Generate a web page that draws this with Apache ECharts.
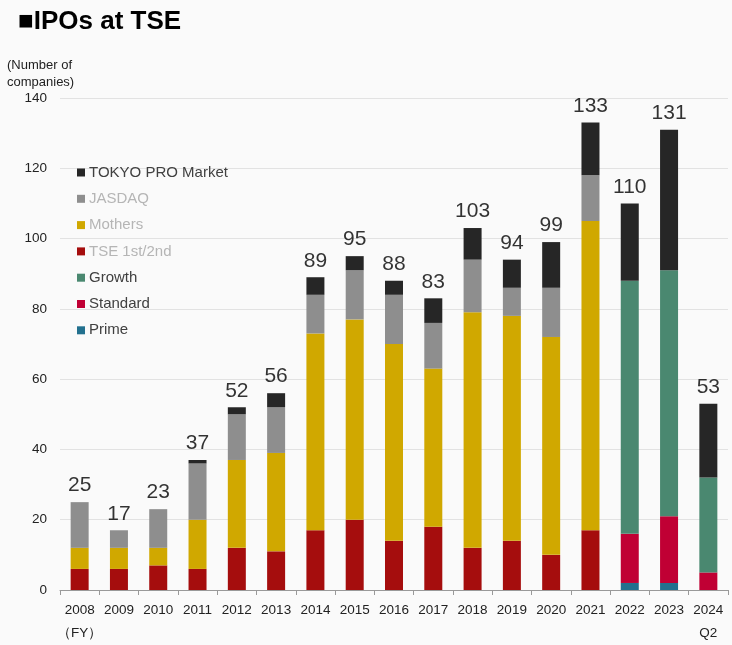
<!doctype html>
<html>
<head>
<meta charset="utf-8">
<title>IPOs at TSE</title>
<script src="https://cdn.jsdelivr.net/npm/echarts@6/dist/echarts.min.js"></script>
<style>
  html, body { margin: 0; padding: 0; background: #fafafa; }
  #main { width: 732px; height: 645px; }
</style>
</head>
<body>
<div id="main"></div>
<script type="text/javascript">
// 年度
var years = ['2008', '2009', '2010', '2011', '2012', '2013', '2014', '2015', '2016',
  '2017', '2018', '2019', '2020', '2021', '2022', '2023', '2024'];
var yearLabels = ['2008\n（FY）', '2009', '2010', '2011', '2012', '2013', '2014', '2015', '2016',
  '2017', '2018', '2019', '2020', '2021', '2022', '2023', '2024\nQ2'];

// 市場別の件数
var prime    = [0, 0, 0, 0, 0, 0, 0, 0, 0, 0, 0, 0, 0, 0, 2, 2, 0];
var standard = [0, 0, 0, 0, 0, 0, 0, 0, 0, 0, 0, 0, 0, 0, 14, 19, 5];
var growth   = [0, 0, 0, 0, 0, 0, 0, 0, 0, 0, 0, 0, 0, 0, 72, 70, 27];
var tse      = [6, 6, 7, 6, 12, 11, 17, 20, 14, 18, 12, 14, 10, 17, 0, 0, 0];
var mothers  = [6, 6, 5, 14, 25, 28, 56, 57, 56, 45, 67, 64, 62, 88, 0, 0, 0];
var jasdaq   = [13, 5, 11, 16, 13, 13, 11, 14, 14, 13, 15, 8, 14, 13, 0, 0, 0];
var proMkt   = [0, 0, 0, 1, 2, 4, 5, 4, 4, 7, 9, 8, 13, 15, 22, 40, 21];

var yTicks = [0, 20, 40, 60, 80, 100, 120, 140];

// 合計
var total = [];
for (var i = 0; i < years.length; i++) {
  total.push(prime[i] + standard[i] + growth[i] + tse[i] + mothers[i] + jasdaq[i] + proMkt[i]);
}

var myChart = echarts.init(document.getElementById('main'));

function bar(name, data, color) {
  return {
    name: name,
    type: 'bar',
    stack: 'all',
    barWidth: 18,
    data: data,
    itemStyle: { color: color },
    emphasis: { disabled: true }
  };
}

var dark = '#404040';
var faded = '#b5b5b5';

var option = {
  backgroundColor: '#fafafa',
  animation: false,
  textStyle: { fontFamily: 'Liberation Sans, Arial, sans-serif' },
  title: {
    text: '■IPOs at TSE',
    left: 13,
    top: 4,
    textStyle: { fontSize: 26, fontWeight: 'bold', color: '#000' }
  },
  graphic: [{
    type: 'text',
    left: 7,
    top: 57,
    style: {
      text: '(Number of\ncompanies)',
      fontSize: 13,
      lineHeight: 17,
      fill: '#222',
      fontFamily: 'Liberation Sans, Arial, sans-serif'
    }
  }],
  legend: {
    orient: 'vertical',
    left: 72,
    top: 160,
    itemWidth: 8,
    itemHeight: 8,
    itemGap: 11.3,
    icon: 'rect',
    selectedMode: false,
    textStyle: { fontSize: 15, color: dark, padding: [0, 0, 0, -1] },
    data: [
      { name: 'TOKYO PRO Market' },
      { name: 'JASDAQ', textStyle: { color: faded } },
      { name: 'Mothers', textStyle: { color: faded } },
      { name: 'TSE 1st/2nd', textStyle: { color: faded } },
      { name: 'Growth' },
      { name: 'Standard' },
      { name: 'Prime' }
    ]
  },
  grid: {
    left: 60,
    right: 4,
    top: 98,
    bottom: 51
  },
  xAxis: {
    type: 'category',
    data: yearLabels,
    axisLine: { lineStyle: { color: '#999' } },
    axisTick: { show: true, length: 5, interval: 0, lineStyle: { color: '#999' } },
    axisLabel: { fontSize: 13.5, color: '#222', margin: 9, lineHeight: 23, interval: 0 }
  },
  yAxis: {
    type: 'value',
    min: 0,
    max: yTicks[yTicks.length - 1],
    interval: 20,
    axisLine: { show: false },
    axisTick: { show: false },
    axisLabel: { fontSize: 13.5, color: '#222', margin: 13 },
    splitLine: { lineStyle: { color: '#e2e2e2' } }
  },
  series: [
    bar('Prime', prime, '#22708e'),
    bar('Standard', standard, '#c00034'),
    bar('TSE 1st/2nd', tse, '#a50d0d'),
    bar('Mothers', mothers, '#d0a800'),
    bar('Growth', growth, '#4a8870'),
    bar('JASDAQ', jasdaq, '#8e8e8e'),
    bar('TOKYO PRO Market', proMkt, '#262626'),
    {
      name: 'total',
      type: 'scatter',
      symbolSize: 0,
      data: total,
      silent: true,
      label: {
        show: true,
        position: 'top',
        distance: 6,
        fontSize: 21,
        color: '#000'
      }
    }
  ]
};

myChart.setOption(option);
</script>
</body>
</html>
